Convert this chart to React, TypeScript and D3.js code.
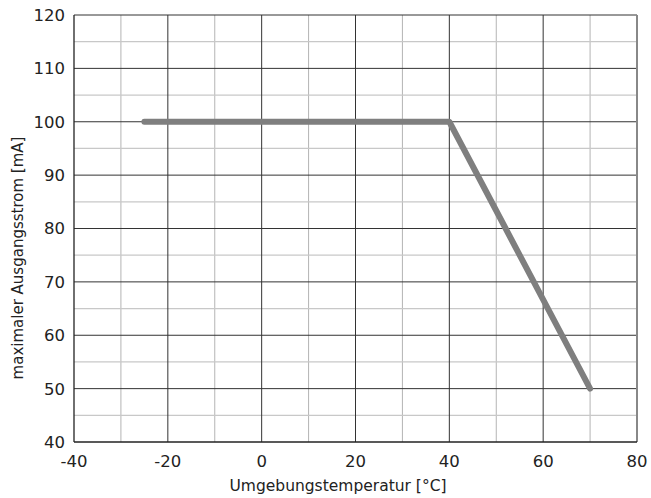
import React from "react";
import * as d3 from "d3";

const temps = [-25, 40, 70];
const currents = [100, 100, 50];
const xTicks = [-40, -20, 0, 20, 40, 60, 80];
const yTicks = [40, 50, 60, 70, 80, 90, 100, 110, 120];
const xMinor = [-30, -10, 10, 30, 50, 70];
const yMinor = [45, 55, 65, 75, 85, 95, 105, 115];

const W = 651, H = 498;
const m = { l: 74, r: 637, t: 15, b: 442 };

export default function App() {
  const x = d3.scaleLinear().domain([-40, 80]).range([m.l, m.r]);
  const y = d3.scaleLinear().domain([40, 120]).range([m.b, m.t]);
  const line = d3.line<number>().x((_, i) => x(temps[i])).y((d) => y(d));
  const font = "'DejaVu Sans', sans-serif";
  return (
    <svg width={W} height={H} style={{ position: "absolute", left: 0, top: 0, background: "#fff" }} fontFamily={font}>
      {xMinor.map((v) => (
        <line key={"xm" + v} x1={x(v)} x2={x(v)} y1={m.t} y2={m.b} stroke="#b4b4b4" strokeWidth={1} />
      ))}
      {yMinor.map((v) => (
        <line key={"ym" + v} x1={m.l} x2={m.r} y1={y(v)} y2={y(v)} stroke="#c8c8c8" strokeWidth={1.2} />
      ))}
      {xTicks.slice(1, -1).map((v) => (
        <line key={"xM" + v} x1={x(v)} x2={x(v)} y1={m.t} y2={m.b} stroke="#333" strokeWidth={1} />
      ))}
      {yTicks.slice(1, -1).map((v) => (
        <line key={"yM" + v} x1={m.l} x2={m.r} y1={y(v)} y2={y(v)} stroke="#333" strokeWidth={1} />
      ))}
      <line x1={m.l} x2={m.r} y1={m.t} y2={m.t} stroke="#333" strokeWidth={1} />
      <line x1={m.r} x2={m.r} y1={m.t} y2={m.b} stroke="#888" strokeWidth={2} />
      <line x1={m.l} x2={m.l} y1={m.t} y2={m.b} stroke="#222" strokeWidth={1.3} />
      <line x1={m.l} x2={m.r} y1={m.b} y2={m.b} stroke="#222" strokeWidth={1.3} />
      <path d={line(currents) || ""} fill="none" stroke="#7f7f7f" strokeWidth={6} strokeLinecap="round" strokeLinejoin="round" />
      {yTicks.map((v) => (
        <text key={"yt" + v} x={65} y={y(v)} dy="0.36em" textAnchor="end" fontSize={16.5} fill="#222">{v}</text>
      ))}
      {xTicks.map((v) => (
        <text key={"xt" + v} x={x(v)} y={467} textAnchor="middle" fontSize={16.5} fill="#222">{v}</text>
      ))}
      <text x={338} y={491} textAnchor="middle" fontSize={15.5} fill="#222">Umgebungstemperatur [°C]</text>
      <text transform={`translate(23, 258) rotate(-90)`} textAnchor="middle" fontSize={15} fill="#222">maximaler Ausgangsstrom [mA]</text>
    </svg>
  );
}
